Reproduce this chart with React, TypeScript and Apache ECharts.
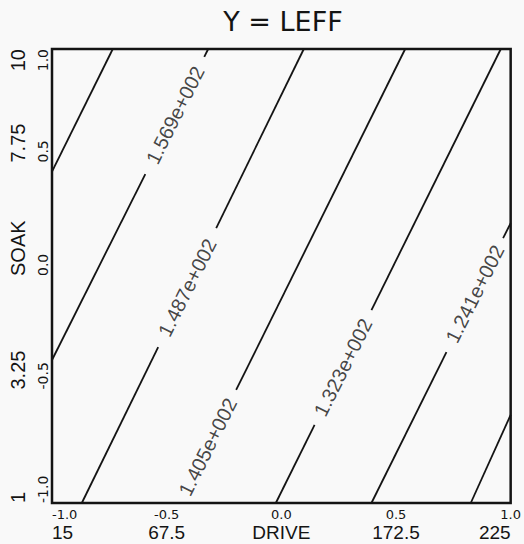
import React, { useEffect, useRef } from "react";
import * as echarts from "echarts";

// Coded axis ticks and real-unit tick labels
const codedTicks = [-1, -0.5, 0, 0.5, 1];
const driveLabels = ["15", "67.5", "DRIVE", "172.5", "225"];
const soakLabels = ["1", "3.25", "SOAK", "7.75", "10"];

// Contour levels of Y = LEFF
const contourLevels = ["1.651e+002", "1.569e+002", "1.487e+002", "1.405e+002", "1.323e+002", "1.241e+002", "1.159e+002"];

// Contour segments in coded (DRIVE, SOAK) units, broken where a label sits
const contourSegments: number[][][][] = [
  [[[-0.735, 1], [-1, 0.46]]],
  [[[-0.319, 1], [-0.336, 0.965]], [[-0.593, 0.449], [-1, -0.37]]],
  [[[0.098, 1], [-0.284, 0.211]], [[-0.537, -0.313], [-0.87, -1]]],
  [[[0.54, 1], [-0.197, -0.502]]],
  [[[0.957, 1], [0.393, -0.15]], [[0.145, -0.656], [-0.024, -1]]],
  [[[1, 0.233], [0.967, 0.167]], [[0.72, -0.335], [0.393, -1]]],
  [[[1, -0.612], [0.826, -1]]],
];

// Label anchor (coded units) for each labelled contour, by level index
const labelLevelIndex = [1, 2, 3, 4, 5];
const labelAnchors = [
  [-0.463, 0.709],
  [-0.41, -0.051],
  [-0.321, -0.753],
  [0.269, -0.403],
  [0.844, -0.079],
];

const idx = (v: number) => Math.round((v + 1) / 0.5);

export default function App() {
  const ref = useRef<HTMLDivElement>(null);
  useEffect(() => {
    if (!ref.current) return;
    const chart = echarts.init(ref.current, undefined, { renderer: "svg" });
    const ink = "#141414";
    const lineData = contourSegments.flatMap((segs) => segs.map((s) => ({ coords: s })));
    const labelData = labelAnchors.map((p, i) => [p[0], p[1], contourLevels[labelLevelIndex[i]]]);
    chart.setOption({
      animation: false,
      backgroundColor: "#f9f9f9",
      title: {
        text: "Y = LEFF",
        left: 278,
        textAlign: "center",
        top: 3,
        textStyle: { fontFamily: "DejaVu Sans", fontSize: 27, fontWeight: "normal", color: ink },
      },
      grid: {
        left: 52,
        right: 11,
        top: 49,
        bottom: 41,
        show: true,
        borderColor: ink,
        borderWidth: 2.5,
        backgroundColor: "transparent",
      },
      xAxis: [
        {
          type: "value",
          min: -1,
          max: 1,
          interval: 0.5,
          position: "bottom",
          axisLine: { show: false },
          axisTick: { show: false },
          splitLine: { show: false },
          axisLabel: {
            margin: 5,
            fontFamily: "DejaVu Sans",
            fontSize: 13,
            color: ink,
            alignMinLabel: "left",
            formatter: (v: number) => codedTicks[idx(v)].toFixed(1),
          },
        },
        {
          type: "value",
          min: -1,
          max: 1,
          interval: 0.5,
          position: "bottom",
          axisLine: { show: false },
          axisTick: { show: false },
          splitLine: { show: false },
          axisLabel: {
            margin: 20,
            fontFamily: "Liberation Sans",
            fontSize: 19,
            color: ink,
            alignMinLabel: "left",
            alignMaxLabel: "right",
            formatter: (v: number) => driveLabels[idx(v)],
          },
        },
      ],
      yAxis: [
        {
          type: "value",
          min: -1,
          max: 1,
          interval: 0.5,
          position: "left",
          axisLine: { show: false },
          axisTick: { show: false },
          splitLine: { show: false },
          axisLabel: {
            margin: 2,
            rotate: 90,
            align: "left",
            alignMaxLabel: "right",
            fontFamily: "DejaVu Sans",
            fontSize: 14,
            color: ink,
            formatter: (v: number) => codedTicks[idx(v)].toFixed(1),
          },
        },
        {
          type: "value",
          min: -1,
          max: 1,
          interval: 0.5,
          position: "left",
          axisLine: { show: false },
          axisTick: { show: false },
          splitLine: { show: false },
          axisLabel: {
            margin: 24,
            rotate: 90,
            align: "left",
            alignMaxLabel: "right",
            fontFamily: "Liberation Sans",
            fontSize: 20,
            color: ink,
            formatter: (v: number) => soakLabels[idx(v)],
          },
        },
      ],
      series: [
        {
          type: "lines",
          coordinateSystem: "cartesian2d",
          xAxisIndex: 0,
          yAxisIndex: 0,
          polyline: false,
          lineStyle: { color: ink, width: 1.8, opacity: 1, curveness: 0 },
          data: lineData,
          silent: true,
        },
        {
          type: "scatter",
          xAxisIndex: 0,
          yAxisIndex: 0,
          symbolSize: 0,
          data: labelData,
          label: {
            show: true,
            position: "inside",
            rotate: 63.4,
            fontFamily: "Liberation Sans",
            fontSize: 20,
            color: ink,
            formatter: (p: any) => p.value[2],
          },
          silent: true,
        },
      ],
    });
    return () => chart.dispose();
  }, []);
  return <div ref={ref} style={{ width: 524, height: 544, position: "absolute", left: 0, top: 0 }} />;
}
